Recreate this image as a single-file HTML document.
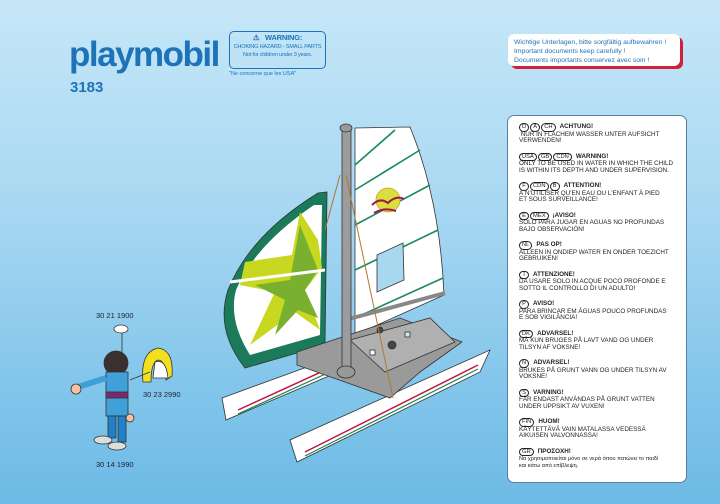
<!DOCTYPE html>
<html><head><meta charset="utf-8"><style>
*{margin:0;padding:0;box-sizing:border-box}
body{width:720px;height:504px;overflow:hidden;position:relative;font-family:"Liberation Sans",sans-serif;background:linear-gradient(#c6e7f8 0%,#a9d8f2 40%,#7fc4ea 80%,#6cbae6 100%)}
.abs{position:absolute}
.logo{left:69px;top:35px;font-size:35px;font-weight:bold;color:#1e72b8;letter-spacing:-1.5px}
.num{left:70px;top:79px;font-size:15px;font-weight:bold;color:#1e72b8}
.warn{left:229px;top:31px;width:97px;height:38px;border:1px solid #1e72b8;border-radius:5px;font-size:5.6px;letter-spacing:-0.2px;color:#1e72b8;text-align:center;line-height:8px;padding-top:2px;white-space:nowrap}
.warn b{font-size:7.5px}
.nc{left:229px;top:71px;font-size:5.5px;color:#1e72b8}
.docs{left:508px;top:34px;width:172px;height:32px;background:#fff;border-radius:6px;box-shadow:3px 3px 0 #d0203a;font-size:6.8px;color:#1e72b8;line-height:9px;padding:4px 6px}
.panel{left:507px;top:115px;width:180px;height:368px;background:#fff;border-radius:7px;border:1px solid #5a7fa0;padding:7px 8px 0 11px;font-size:6.3px;line-height:6.9px;color:#222;white-space:nowrap}
.panel p{margin-bottom:7.2px}
.c{display:inline-block;border:1px solid #222;border-radius:5px;padding:0 2px;font-size:5.8px;line-height:6.5px;margin-right:1px;min-width:10px;text-align:center}
.h{font-weight:bold;margin-left:3px}
.gr{font-size:5.6px}
.lbl{font-size:7.5px;color:#223}
</style></head><body>
<div class="abs logo">playmobil</div>
<div class="abs num">3183</div>
<div class="abs warn"><b>⚠&nbsp;&nbsp; WARNING:</b><br>CHOKING HAZARD - SMALL PARTS<br>Not for children under 3 years.</div>
<div class="abs nc">"Ne concerne que les USA"</div>
<div class="abs docs">Wichtige Unterlagen, bitte sorgfältig aufbewahren !<br>Important documents keep carefully !<br>Documents importants conservez avec soin !</div>
<div class="abs panel">
<p><span class="c">D</span><span class="c">A</span><span class="c">CH</span><span class="h">ACHTUNG!</span><br>&nbsp;NUR IN FLACHEM WASSER UNTER AUFSICHT<br>VERWENDEN!</p>
<p><span class="c">USA</span><span class="c">GB</span><span class="c">CDN</span><span class="h">WARNING!</span><br>ONLY TO BE USED IN WATER IN WHICH THE CHILD<br>IS WITHIN ITS DEPTH AND UNDER SUPERVISION.</p>
<p><span class="c">F</span><span class="c">CDN</span><span class="c">B</span><span class="h">ATTENTION!</span><br>À N'UTILISER QU'EN EAU OU L'ENFANT À PIED<br>ET SOUS SURVEILLANCE!</p>
<p><span class="c">E</span><span class="c">MEX</span><span class="h">¡AVISO!</span><br>SOLO PARA JUGAR EN AGUAS NO PROFUNDAS<br>BAJO OBSERVACIÓN!</p>
<p><span class="c">NL</span><span class="h">PAS OP!</span><br>ALLEEN IN ONDIEP WATER EN ONDER TOEZICHT<br>GEBRUIKEN!</p>
<p><span class="c">I</span><span class="h">ATTENZIONE!</span><br>DA USARE SOLO IN ACQUE POCO PROFONDE E<br>SOTTO IL CONTROLLO DI UN ADULTO!</p>
<p><span class="c">P</span><span class="h">AVISO!</span><br>PARA BRINCAR EM ÁGUAS POUCO PROFUNDAS<br>E SOB VIGILÂNCIA!</p>
<p><span class="c">DK</span><span class="h">ADVARSEL!</span><br>MÅ KUN BRUGES PÅ LAVT VAND OG UNDER<br>TILSYN AF VOKSNE!</p>
<p><span class="c">N</span><span class="h">ADVARSEL!</span><br>BRUKES PÅ GRUNT VANN OG UNDER TILSYN AV<br>VOKSNE!</p>
<p><span class="c">S</span><span class="h">VARNING!</span><br>FÅR ENDAST ANVÄNDAS PÅ GRUNT VATTEN<br>UNDER UPPSIKT AV VUXEN!</p>
<p><span class="c">FIN</span><span class="h">HUOM!</span><br>KÄYTETTÄVÄ VAIN MATALASSA VEDESSÄ<br>AIKUISEN VALVONNASSA!</p>
<p><span class="c">GR</span><span class="h">ΠΡΟΣΟΧΗ!</span><br><span class="gr">Να χρησιμοποιείται μόνο σε νερά όπου πατώνει το παιδί<br>και κάτω από επίβλεψη.</span></p>
</div>
<div class="abs lbl" style="left:96px;top:311px">30 21 1900</div>
<div class="abs lbl" style="left:143px;top:390px">30 23 2990</div>
<div class="abs lbl" style="left:96px;top:460px">30 14 1990</div>
<svg class="abs" style="left:0;top:0" width="720" height="504">
<g stroke="#333" stroke-width="0.8">
<polygon points="222,398 226,420 385,352 392,336" fill="#fff"/>
<polygon points="290,440 297,462 480,372 490,350" fill="#fff"/>
<line x1="238" y1="410" x2="380" y2="345" stroke="#c8104a" stroke-width="1.5"/>
<line x1="305" y1="452" x2="478" y2="365" stroke="#c8104a" stroke-width="1.5"/>
<line x1="238" y1="414" x2="380" y2="349" stroke="#1a8a4a" stroke-width="1.2"/>
<line x1="305" y1="456" x2="478" y2="369" stroke="#1a8a4a" stroke-width="1.2"/>
<path d="M355,128 L410,127 Q440,200 444,295 L355,335 Z" fill="#fff"/>
<g stroke="#1a8a5a" stroke-width="1.6">
<line x1="355" y1="165" x2="395" y2="130"/><line x1="355" y1="190" x2="420" y2="150"/>
<line x1="355" y1="225" x2="430" y2="185"/><line x1="355" y1="270" x2="438" y2="230"/>
<line x1="355" y1="318" x2="443" y2="278"/></g>
<polygon points="377,255 403,243 404,280 377,292" fill="#a8d8f0"/>
<circle cx="388" cy="200" r="12" fill="#d8e040" stroke="#c8a020"/>
<path d="M372,205 q8,-8 16,-2 q8,-8 16,-4 M374,213 q10,-6 22,-2" stroke="#a01848" stroke-width="2" fill="none"/>
<path d="M318,193 L327,192 L325,345 L245,368 Q215,330 228,290 Q250,235 318,193 Z" fill="#1a7a5a"/>
<path d="M314,205 L322,205 L320,335 L250,355 Q228,320 236,290 Q255,245 314,205 Z" fill="#fff" stroke="none"/>
<path d="M300,212 L292,255 L245,262 L240,285 L275,292 L250,345 L295,312 L320,330 L305,290 L322,268 L318,240 Z" fill="#c8d820" stroke="none"/>
<path d="M300,225 L290,280 L255,285 L285,300 L275,335 L298,310 L318,318 L305,290 L318,270 Z" fill="#7ab030" stroke="none"/>
<line x1="230" y1="282" x2="325" y2="270" stroke="#fff" stroke-width="3"/>
<polygon points="297,352 400,318 462,342 420,372 390,398 297,365" fill="#9a9a9a"/>
<polygon points="350,340 430,318 455,342 385,372" fill="#b0b0b0"/>
<rect x="370" y="350" width="5" height="5" fill="#fff"/><rect x="405" y="332" width="5" height="5" fill="#c8e8f8"/>
<circle cx="392" cy="345" r="4" fill="#444"/><circle cx="380" cy="330" r="3" fill="#444"/>
<line x1="345" y1="320" x2="445" y2="293" stroke="#888" stroke-width="4"/>
<rect x="342" y="128" width="9" height="248" fill="#9c9c9c"/>
<ellipse cx="346" cy="128" rx="6" ry="4" fill="#999"/>
<ellipse cx="346" cy="372" rx="9" ry="6" fill="#999"/>
<line x1="346" y1="175" x2="393" y2="398" stroke="#b07830" stroke-width="1"/>
<line x1="340" y1="175" x2="325" y2="230" stroke="#b07830" stroke-width="1"/>
<line x1="122" y1="330" x2="122" y2="355" stroke="#333"/>
<ellipse cx="121" cy="329" rx="7" ry="4" fill="#fff"/>
<path d="M143,382 Q140,352 158,348 Q174,350 172,376 L166,380 Q166,360 158,360 Q151,362 151,382 Z" fill="#f0e020"/>
<path d="M155,362 Q166,358 168,378 L153,378 Z" fill="#fff"/>
<line x1="150" y1="372" x2="130" y2="380" stroke="#333"/>
<circle cx="116" cy="363" r="12" fill="#3a3030"/>
<rect x="106" y="372" width="22" height="44" fill="#40a0d8"/>
<rect x="106" y="392" width="22" height="6" fill="#7a2a70"/>
<line x1="106" y1="378" x2="78" y2="387" stroke="#40a0d8" stroke-width="6"/>
<circle cx="76" cy="389" r="5" fill="#f8c0a0"/>
<circle cx="130" cy="418" r="4" fill="#f8c0a0"/>
<rect x="108" y="416" width="8" height="22" fill="#2080c8"/><rect x="118" y="416" width="8" height="26" fill="#2080c8"/>
<ellipse cx="103" cy="440" rx="9" ry="4" fill="#ddd"/><ellipse cx="117" cy="446" rx="9" ry="4" fill="#ddd"/>
</g>
</svg>
</body></html>
